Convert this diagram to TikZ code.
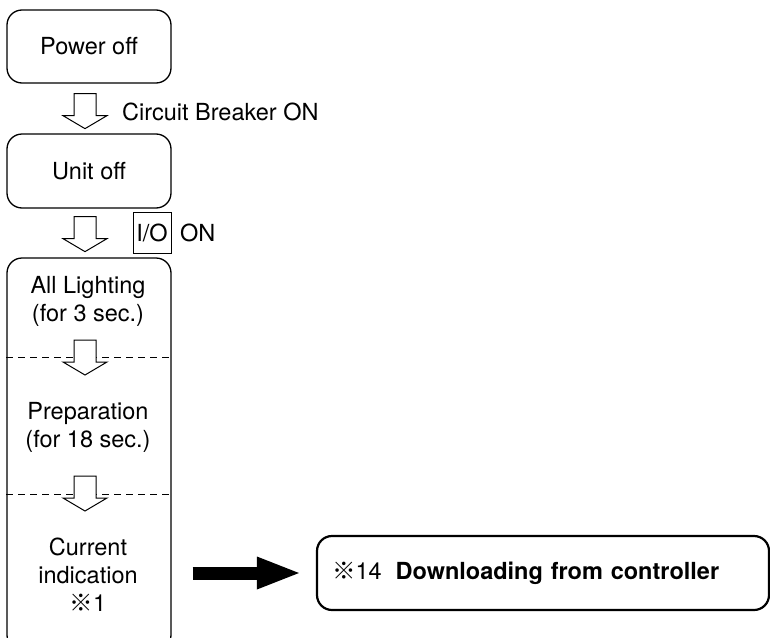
\documentclass[tikz,border=0pt]{standalone}
\usepackage{fontspec}
\setmainfont{TeX Gyre Heros}
\newfontfamily\cjk{Noto Sans CJK JP}
\usetikzlibrary{arrows.meta,calc}
\tikzset{
  stepbox/.style={draw, line width=1.3pt, rounded corners=15pt, inner sep=0pt},
  labeltext/.style={inner sep=0pt, align=center, font=\fontsize{23.5}{28}\selectfont},
  plaintext/.style={inner sep=0pt, anchor=west, font=\fontsize{23.5}{28}\selectfont},
  dashline/.style={line width=1pt, dash pattern=on 7pt off 5pt},
  hollow/.pic={\draw[line width=1pt, fill=white, line join=miter]
     (-11,0) -- (11,0) -- (11,22) -- (22,22) -- (0,35) -- (-22,22) -- (-11,22) -- cycle;},
  bigarrow/.style={line width=13pt, -{Triangle[length=45pt,width=29pt]}},
  dlbox/.style={draw, line width=2.2pt, rounded corners=15pt, inner xsep=15pt, inner ysep=0pt,
     text width=422pt, minimum height=74pt, align=left, font=\fontsize{23.5}{28}\selectfont}
}
\begin{document}
\begin{tikzpicture}[x=1pt, y=-1pt]
\useasboundingbox (0,0) rectangle (770,637);
\clip (0,0) rectangle (770,637);

% boxes
\node[stepbox, minimum width=164pt, minimum height=73pt, font=\fontsize{23.5}{28}\selectfont]
  (power) at (89,46.5) {Power off};
\node[stepbox, minimum width=164pt, minimum height=74pt, font=\fontsize{23.5}{28}\selectfont]
  (unit) at (89,171) {Unit off};
\node[stepbox, minimum width=164pt, minimum height=392pt] (tall) at (89,454) {};

% labels beside arrows
\node[plaintext] (cb) at (122,112) {Circuit Breaker ON};
\node[draw, line width=1pt, inner sep=0pt, minimum width=38pt, minimum height=41pt,
      font=\fontsize{23.5}{28}\selectfont] (io) at (152,232.5) {I/O};
\node[plaintext] (on) at (180,233) {ON};

% hollow arrows between boxes
\pic at ([shift={(-4,10)}]power.south) {hollow};
\pic at ([shift={(-4,8)}]unit.south) {hollow};

% dashed separators inside tall box
\coordinate (s1) at (0,357);
\coordinate (s2) at (0,494);
\draw[dashline] (tall.west |- s1) -- (tall.east |- s1);
\draw[dashline] (tall.west |- s2) -- (tall.east |- s2);
\pic at (85,340) {hollow};
\pic at (85,476) {hollow};

% texts inside tall box
\node[labeltext] (t1) at (88,301) {All Lighting\\(for 3 sec.)};
\node[labeltext] (t2) at (88,427) {Preparation\\(for 18 sec.)};
\node[labeltext] (t3) at (88,575) {Current\\indication\\{\cjk ※}1};

% download box
\node[dlbox] (dl) at (543,573) {{\cjk ※}14\hspace{14pt}\textbf{Downloading from controller}};

% big arrow
\draw[bigarrow] ([xshift=21pt]tall.east |- dl.west) -- ([xshift=-14pt]dl.west);
\end{tikzpicture}
\end{document}
